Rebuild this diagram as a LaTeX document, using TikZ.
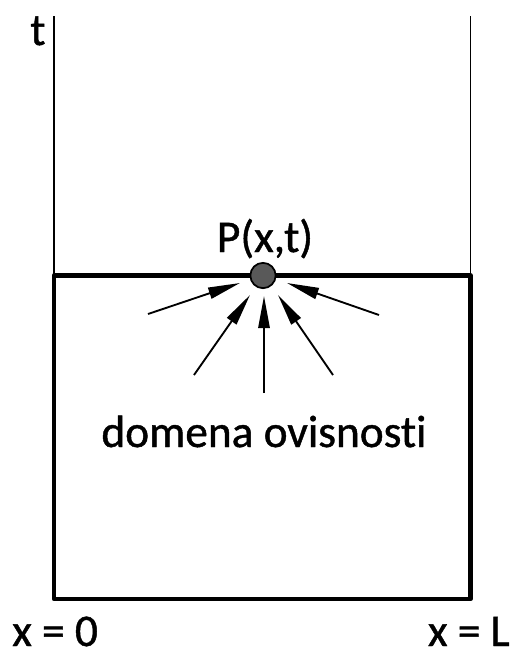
\documentclass[tikz,border=0pt]{standalone}
\usepackage{fontspec}
\setmainfont[Ligatures={NoCommon,NoDiscretionary},FakeBold=1]{Carlito}
\usetikzlibrary{arrows.meta}
\begin{document}
\begin{tikzpicture}[x=0.75pt,y=-0.75pt,
  lbl/.style={inner sep=0pt,font=\fontsize{34}{40}\selectfont},
  axisline/.style={line width=1.2pt},
  boxline/.style={line width=3.6pt},
  dep/.style={line width=1.4pt,-{Triangle[length=24pt,width=8.5pt]}}]
\useasboundingbox (0,0) rectangle (519,651);
% vertical lines
\coordinate (tl) at (54,16);
\coordinate (tr) at (470.5,16);
\coordinate (bl) at (54,599);
\coordinate (br) at (470.5,599);
\coordinate (ml) at (54,275.5);
\coordinate (mr) at (470.5,275.5);
\draw[axisline] (tl) -- (ml);
\draw[axisline] (tr) -- (mr);
\draw[boxline,line join=round] (ml) -- (bl) -- (br) -- (mr) -- cycle;
% point P
\node[circle,draw,line width=1.3pt,fill=black!65,minimum size=19pt,inner sep=0pt] (P) at (263,275.5) {};
% labels
\node[lbl,anchor=base] (Plbl) at (265,252) {P(x,t)};
\node[lbl,anchor=base] (dom) at (264,447) {domena ovisnosti};
\node[lbl,anchor=base west] (t) at (30,45) {t};
\node[lbl,anchor=base west] (x0) at (12,646) {x = 0};
\node[lbl,anchor=base east] (xL) at (510,646) {x = L};
% arrows
\coordinate (a1) at (148,314);
\coordinate (a2) at (194,375);
\coordinate (a3) at (264,393);
\coordinate (a4) at (333,375);
\coordinate (a5) at (379,315);
\coordinate (e1) at (240,283);
\coordinate (e2) at (250,295);
\coordinate (e3) at (264,296);
\coordinate (e4) at (278,295);
\coordinate (e5) at (287,283);
\draw[dep] (a1) -- (e1);
\draw[dep] (a2) -- (e2);
\draw[dep] (a3) -- (e3);
\draw[dep] (a4) -- (e4);
\draw[dep] (a5) -- (e5);
\end{tikzpicture}
\end{document}
